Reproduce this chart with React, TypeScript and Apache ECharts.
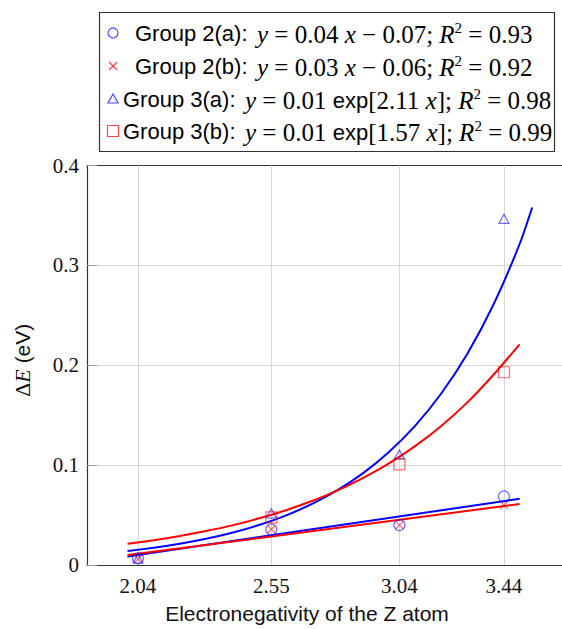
import React, { useEffect, useRef } from 'react';
import * as echarts from 'echarts';

// Tick values
const xTicks = [2.04, 2.55, 3.04, 3.44];

// Data points (electronegativity, ΔE)
const group2a = [[2.04, 0.0067], [2.55, 0.0356], [3.04, 0.040], [3.44, 0.0686]];
const group2b = [[2.04, 0.0060], [2.55, 0.0358], [3.04, 0.040], [3.44, 0.0597]];
const group3a = [[2.04, 0.0065], [2.55, 0.0517], [3.04, 0.1107], [3.44, 0.3466]];
const group3b = [[2.55, 0.0477], [3.04, 0.1007], [3.44, 0.193]];

// Fit curves
const fit2a = [[2.0, 0.0086], [3.5, 0.0663]];
const fit2b = [[2.0, 0.0099], [3.5, 0.0610]];
const fit3a = [
  [2.0, 0.0140], [2.1, 0.0172], [2.2, 0.0212], [2.3, 0.0262], [2.4, 0.0323], [2.5, 0.0398],
  [2.6, 0.0490], [2.7, 0.0604], [2.8, 0.0744], [2.9, 0.0917], [3.0, 0.1131], [3.1, 0.1393],
  [3.2, 0.1717], [3.3, 0.2116], [3.4, 0.2608], [3.5, 0.3214], [3.548, 0.358],
];
const fit3b = [
  [2.0, 0.0212], [2.1, 0.0248], [2.2, 0.0290], [2.3, 0.0340], [2.4, 0.0397], [2.5, 0.0465],
  [2.6, 0.0543], [2.7, 0.0636], [2.8, 0.0743], [2.9, 0.0870], [3.0, 0.1017], [3.1, 0.1190],
  [3.2, 0.1392], [3.3, 0.1628], [3.4, 0.1905], [3.5, 0.221],
];

const legendNames = ['Group 2(a):', 'Group 2(b):', 'Group 3(a):', 'Group 3(b):'];
const legendEqs = [
  '{i|y}{n| = 0.04 }{i|x}{n| \u2212 0.07; }{i|R}{s|2}{n| = 0.93}',
  '{i|y}{n| = 0.03 }{i|x}{n| \u2212 0.06; }{i|R}{s|2}{n| = 0.92}',
  '{i|y}{n| = 0.01 }{e|exp}{n|[2.11 }{i|x}{n|]; }{i|R}{s|2}{n| = 0.98}',
  '{i|y}{n| = 0.01 }{e|exp}{n|[1.57 }{i|x}{n|]; }{i|R}{s|2}{n| = 0.99}',
];

const BLUE = '#0000ff';
const RED = '#ff0000';
const MBLUE = 'rgba(0,0,255,0.72)';
const MRED = 'rgba(255,0,0,0.72)';
const SERIF = 'Liberation Serif';
const SANS = 'Liberation Sans';

const mathRich = {
  i: { fontFamily: SERIF, fontStyle: 'italic', fontSize: 25, lineHeight: 28, color: '#000' },
  n: { fontFamily: SERIF, fontSize: 25, lineHeight: 28, color: '#000' },
  e: { fontFamily: SANS, fontSize: 22, lineHeight: 28, color: '#000' },
  s: { fontFamily: SERIF, fontSize: 15, lineHeight: 16, verticalAlign: 'top', color: '#000' },
};

export default function App() {
  const ref = useRef<HTMLDivElement>(null);
  useEffect(() => {
    if (!ref.current) return;
    const chart = echarts.init(ref.current, null, { renderer: 'svg' });

    const rowY = [33, 66, 99, 131];
    const nameX = [135, 135, 123, 123];
    const eqX = [257, 257, 245, 245];
    const mx = 113;

    const graphic: any[] = [
      { type: 'rect', shape: { x: 99.5, y: 12.5, width: 455, height: 139 }, style: { fill: '#fff', stroke: '#333', lineWidth: 1.2 }, z: 10 },
      { type: 'circle', shape: { cx: mx, cy: rowY[0], r: 5 }, style: { fill: 'none', stroke: MBLUE, lineWidth: 1.2 }, z: 11 },
      { type: 'polyline', shape: { points: [[mx - 4, rowY[1] - 4], [mx + 4, rowY[1] + 4]] }, style: { stroke: MRED, lineWidth: 1.2 }, z: 11 },
      { type: 'polyline', shape: { points: [[mx + 4, rowY[1] - 4], [mx - 4, rowY[1] + 4]] }, style: { stroke: MRED, lineWidth: 1.2 }, z: 11 },
      { type: 'polygon', shape: { points: [[mx, rowY[2] - 5], [mx + 5, rowY[2] + 4], [mx - 5, rowY[2] + 4]] }, style: { fill: 'none', stroke: MBLUE, lineWidth: 1.2 }, z: 11 },
      { type: 'rect', shape: { x: mx - 5.5, y: rowY[3] - 5.5, width: 11, height: 11 }, style: { fill: 'none', stroke: MRED, lineWidth: 1.2 }, z: 11 },
    ];
    legendNames.forEach((nm, k) => {
      graphic.push({
        type: 'text', x: nameX[k], y: rowY[k], z: 11,
        style: { text: nm, fontFamily: SANS, fontSize: 22, fill: '#000', verticalAlign: 'middle', align: 'left' },
      });
      graphic.push({
        type: 'text', x: eqX[k], y: rowY[k] + 1, z: 11,
        style: { text: legendEqs[k], rich: mathRich, verticalAlign: 'middle', align: 'left' },
      });
    });

    const scatterBase = { type: 'scatter', z: 4 };
    const xMin = 1.845;
    const xMax = 3.662;

    const option: any = {
      animation: false,
      backgroundColor: '#fff',
      grid: { left: 87, right: 0, top: 165.5, bottom: 61, show: false, containLabel: false },
      xAxis: [
        {
          type: 'value', min: xMin, max: xMax,
          axisLine: { show: true, lineStyle: { color: '#333', width: 1.2 } },
          axisTick: { show: true, inside: true, length: 8, customValues: xTicks, lineStyle: { color: '#999' } },
          axisLabel: { customValues: xTicks, formatter: (v: number) => v.toFixed(2), fontFamily: SERIF, fontSize: 21, color: '#111', margin: 10 },
          splitLine: { show: false },
          name: 'Electronegativity of the Z atom', nameLocation: 'middle', nameGap: 38,
          nameTextStyle: { fontFamily: SANS, fontSize: 21, color: '#111', padding: [0, 35, 0, 0] },
        },
        {
          type: 'value', position: 'top', min: xMin, max: xMax,
          axisLine: { show: true, onZero: false, lineStyle: { color: '#333', width: 1.2 } },
          axisTick: { show: false }, axisLabel: { show: false }, splitLine: { show: false },
        },
      ],
      yAxis: {
        type: 'value', min: 0, max: 0.4, interval: 0.1,
        axisLine: { show: true, lineStyle: { color: '#333', width: 1.2 } },
        axisTick: { show: true, inside: true, length: 10, lineStyle: { color: '#999' } },
        axisLabel: { formatter: (v: number) => (v === 0 ? '0' : v.toFixed(1)), fontFamily: SERIF, fontSize: 21, color: '#111', margin: 8 },
        splitLine: { show: true, lineStyle: { color: '#d6d6d6', width: 1 } },
        name: '{d|\u0394}{e|E}{t| (eV)}', nameLocation: 'middle', nameGap: 54,
        nameTextStyle: {
          padding: [0, 0, 0, 10],
          rich: {
            d: { fontFamily: SERIF, fontSize: 22, color: '#111' },
            e: { fontFamily: SERIF, fontStyle: 'italic', fontSize: 22, color: '#111' },
            t: { fontFamily: SANS, fontSize: 21, color: '#111' },
          },
        },
      },
      graphic,
      series: [
        {
          name: 'fit 2(a)', type: 'line', data: fit2a, showSymbol: false, z: 3,
          lineStyle: { color: BLUE, width: 2 },
          markLine: {
            silent: true, symbol: ['none', 'none'], label: { show: false }, z: 1,
            lineStyle: { color: '#d6d6d6', type: 'solid', width: 1 },
            data: xTicks.map((v) => ({ xAxis: v })),
          },
        },
        { name: 'fit 2(b)', type: 'line', data: fit2b, showSymbol: false, z: 3, lineStyle: { color: RED, width: 2 } },
        { name: 'fit 3(a)', type: 'line', data: fit3a, showSymbol: false, smooth: 0.2, z: 3, lineStyle: { color: BLUE, width: 2 } },
        { name: 'fit 3(b)', type: 'line', data: fit3b, showSymbol: false, smooth: 0.2, z: 3, lineStyle: { color: RED, width: 2 } },
        { ...scatterBase, name: 'Group 2(a)', data: group2a, symbol: 'circle', symbolSize: 11, itemStyle: { color: 'transparent', borderColor: MBLUE, borderWidth: 1.2 } },
        { ...scatterBase, name: 'Group 2(b)', data: group2b, symbol: 'path://M0,0L10,10M10,0L0,10', symbolSize: 8, itemStyle: { color: 'transparent', borderColor: MRED, borderWidth: 1.2 } },
        { ...scatterBase, name: 'Group 3(a)', data: group3a, symbol: 'triangle', symbolSize: [10, 9], itemStyle: { color: 'transparent', borderColor: MBLUE, borderWidth: 1.2 } },
        { ...scatterBase, name: 'Group 3(b)', data: group3b, symbol: 'rect', symbolSize: 11, itemStyle: { color: 'transparent', borderColor: MRED, borderWidth: 1.2 } },
      ],
    };
    chart.setOption(option);
    return () => chart.dispose();
  }, []);
  return <div ref={ref} style={{ position: 'fixed', left: 0, top: 0, width: 562, height: 629, background: '#fff' }} />;
}
